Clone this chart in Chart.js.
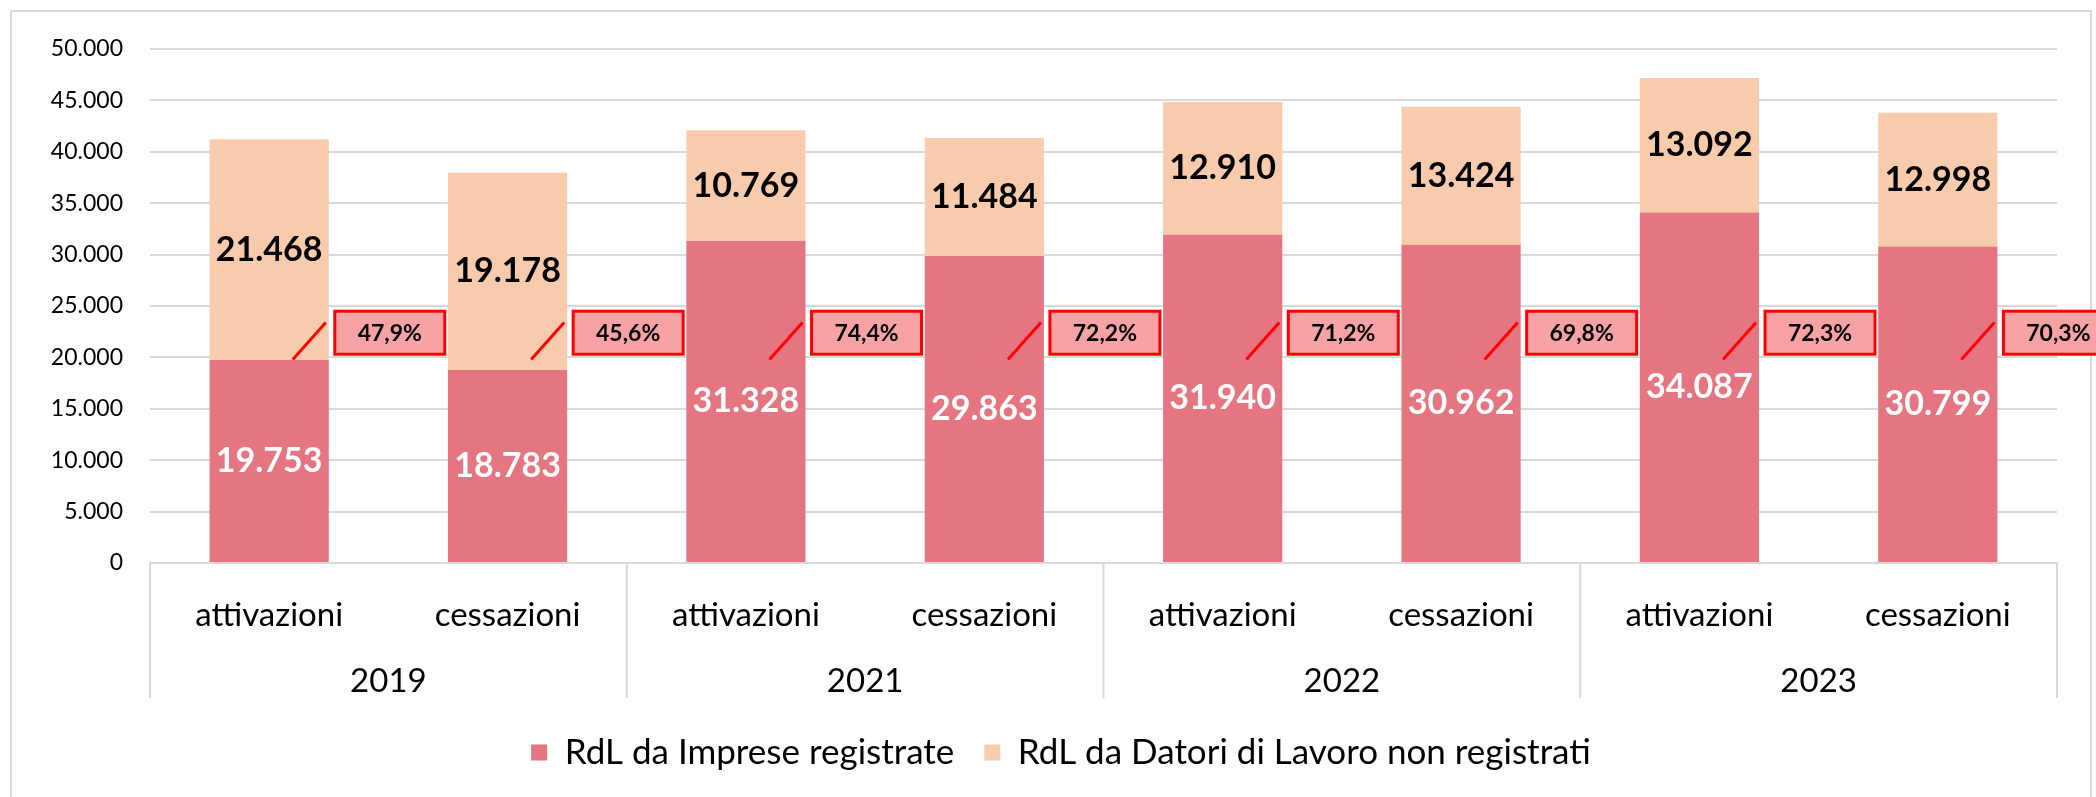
<!DOCTYPE html>
<html>
<head>
<meta charset="utf-8">
<style>
html,body{margin:0;padding:0;background:#fff;overflow:hidden;width:2096px;height:797px}
#frame{position:absolute;left:10px;top:10px;width:2082px;height:800px;border:2px solid #D9D9D9;box-sizing:border-box}
#c{position:absolute;left:0;top:0}
</style>
<script src="https://cdn.jsdelivr.net/npm/chart.js@4"></script>
</head>
<body>
<div id="frame"></div>
<canvas id="c" width="2096" height="797"></canvas>
<script>
// ---- data ----
const categories = ['attivazioni','cessazioni','attivazioni','cessazioni','attivazioni','cessazioni','attivazioni','cessazioni'];
const years = ['2019','2021','2022','2023'];
const registrate = [19753, 18783, 31328, 29863, 31940, 30962, 34087, 30799];
const nonRegistrate = [21468, 19178, 10769, 11484, 12910, 13424, 13092, 12998];
const quotaRegistrate = [47.9, 45.6, 74.4, 72.2, 71.2, 69.8, 72.3, 70.3];
const seriesNames = ['RdL da Imprese registrate', 'RdL da Datori di Lavoro non registrati'];

function fmt(v){ return String(v).replace(/\B(?=(\d{3})+(?!\d))/g, '.'); }
function fmtPct(v){ return v.toFixed(1).replace('.', ',') + '%'; }

const FONT = 'Lato';

const barLabels = {
  id: 'barLabels',
  afterDatasetsDraw(chart){
    const ctx = chart.ctx;
    ctx.save();
    ctx.font = 'bold 34px ' + FONT;
    ctx.textAlign = 'center';
    ctx.textBaseline = 'middle';
    chart.data.datasets.forEach((ds, i) => {
      const meta = chart.getDatasetMeta(i);
      ctx.fillStyle = ds.labelColor;
      meta.data.forEach((el, j) => {
        ctx.fillText(fmt(ds.data[j]), el.x, (el.y + el.base) / 2);
      });
    });
    ctx.restore();
  }
};

const groupAxis = {
  id: 'groupAxis',
  afterDraw(chart){
    const ctx = chart.ctx;
    const area = chart.chartArea;
    const n = categories.length;
    const catW = (area.right - area.left) / n;
    const per = n / years.length;
    ctx.save();
    ctx.strokeStyle = '#D9D9D9';
    ctx.lineWidth = 2;
    for (let g = 0; g <= years.length; g++) {
      const x = area.left + g * per * catW;
      ctx.beginPath();
      ctx.moveTo(x, area.bottom);
      ctx.lineTo(x, area.bottom + 135);
      ctx.stroke();
    }
    ctx.fillStyle = '#000';
    ctx.font = '33px ' + FONT;
    ctx.textAlign = 'center';
    ctx.textBaseline = 'middle';
    years.forEach((yr, g) => {
      const x = area.left + (g + 0.5) * per * catW;
      ctx.fillText(yr, x, area.bottom + 118);
    });
    ctx.restore();
  }
};

const pctBoxes = {
  id: 'pctBoxes',
  afterDraw(chart){
    const ctx = chart.ctx;
    const ys = chart.scales.y;
    const meta = chart.getDatasetMeta(0);
    ctx.save();
    meta.data.forEach((el, j) => {
      const right = el.x + el.width / 2;
      // leader line
      ctx.strokeStyle = '#FF0000';
      ctx.lineWidth = 3;
      ctx.beginPath();
      ctx.moveTo(right - 36, ys.getPixelForValue(19800));
      ctx.lineTo(right - 3, ys.getPixelForValue(23400));
      ctx.stroke();
      // box
      const yc = ys.getPixelForValue(22400);
      const bx = right + 6, bw = 110, bh = 43;
      ctx.fillStyle = '#F7A3A6';
      ctx.fillRect(bx, yc - bh / 2, bw, bh);
      ctx.lineWidth = 3;
      ctx.strokeRect(bx, yc - bh / 2, bw, bh);
      ctx.fillStyle = '#000';
      ctx.font = 'bold 23px ' + FONT;
      ctx.textAlign = 'center';
      ctx.textBaseline = 'middle';
      ctx.fillText(fmtPct(quotaRegistrate[j]), bx + bw / 2, yc + 1);
    });
    ctx.restore();
  }
};

new Chart(document.getElementById('c'), {
  type: 'bar',
  data: {
    labels: categories,
    datasets: [
      { label: seriesNames[0], data: registrate, backgroundColor: '#E57580', labelColor: '#FFFFFF',
        barPercentage: 0.5, categoryPercentage: 1.0 },
      { label: seriesNames[1], data: nonRegistrate, backgroundColor: '#F8CBAD', labelColor: '#000000',
        barPercentage: 0.5, categoryPercentage: 1.0 }
    ]
  },
  options: {
    responsive: false,
    devicePixelRatio: 1,
    animation: false,
    layout: { padding: { top: 49, right: 0, bottom: 17, left: 26 } },
    plugins: {
      legend: {
        position: 'bottom',
        labels: { font: { family: FONT, size: 35 }, color: '#000', boxWidth: 16, boxHeight: 16, padding: 30 }
      },
      tooltip: { enabled: false },
      title: { display: false }
    },
    scales: {
      x: {
        stacked: true,
        grid: { display: false, drawTicks: false },
        border: { display: true, color: '#D9D9D9', width: 2 },
        ticks: { font: { family: FONT, size: 33 }, color: '#000', padding: 33, maxRotation: 0, autoSkip: false },
        afterFit(s){ s.height = 142; }
      },
      y: {
        stacked: true,
        min: 0, max: 50000,
        grid: { color: '#D9D9D9', lineWidth: 2, drawTicks: false },
        border: { display: false },
        ticks: { stepSize: 5000, callback: (v) => fmt(v), font: { family: FONT, size: 23 }, color: '#000', padding: 27 },
        afterFit(s){ s.width = 124; }
      },
      yRightSpace: {
        type: 'linear',
        position: 'right',
        display: true,
        min: 0, max: 50000,
        grid: { display: false, drawTicks: false },
        border: { display: false },
        ticks: { display: false },
        afterFit(s){ s.width = 39; }
      }
    }
  },
  plugins: [barLabels, groupAxis, pctBoxes]
});
</script>
</body>
</html>
